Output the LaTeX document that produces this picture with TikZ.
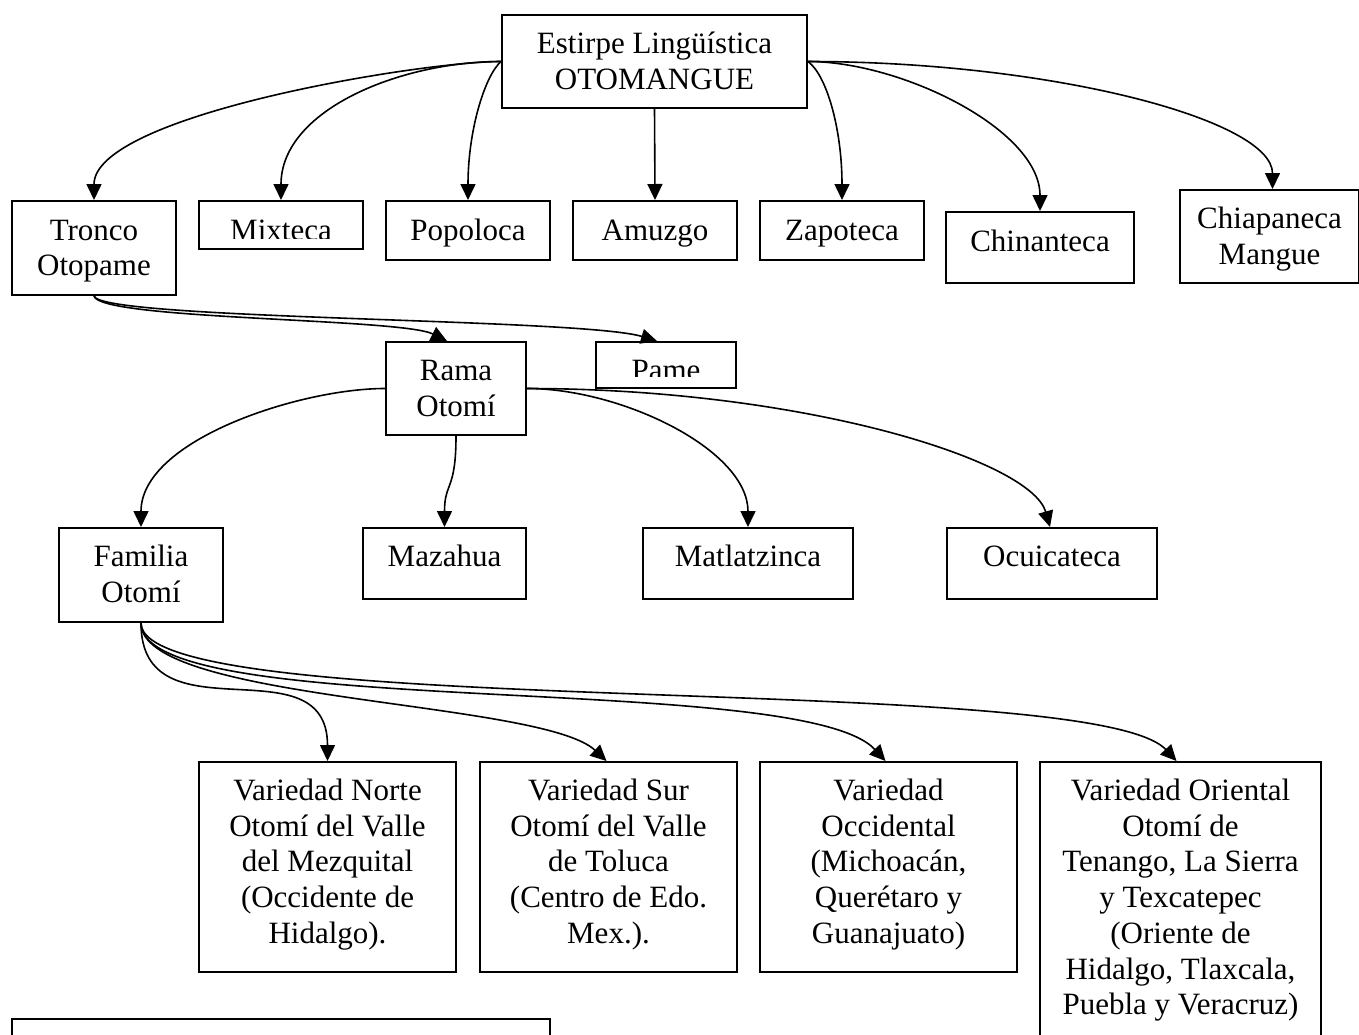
\documentclass[tikz,border=0pt]{standalone}
\usepackage{fontspec}
\setmainfont{Liberation Serif}
\usetikzlibrary{arrows.meta}
\tikzset{
  box/.style={draw, line width=2pt, inner sep=0pt, anchor=north west},
  lbl/.style={inner sep=0pt, anchor=base, font=\fontsize{31}{35.7}\selectfont},
  arr/.style={line width=1.6pt, -{Triangle[length=16pt,width=15pt]}},
}
\newcommand{\lines}[1]{\parbox[t]{420pt}{\centering #1}}
\begin{document}
\begin{tikzpicture}[x=1pt,y=-1pt]
\clip (0,0) rectangle (1359,1034);
\fill[white] (0,0) rectangle (1359,1034);
% boxes
\node[box, minimum width=305pt, minimum height=93pt] (estirpe) at (501,14) {};
\node[box, minimum width=164pt, minimum height=94pt] (tronco) at (11,200) {};
\node[box, minimum width=164pt, minimum height=48pt] (mixteca) at (198,200) {};
\node[box, minimum width=164pt, minimum height=59pt] (popoloca) at (385,200) {};
\node[box, minimum width=164pt, minimum height=59pt] (amuzgo) at (572,200) {};
\node[box, minimum width=164pt, minimum height=59pt] (zapoteca) at (759,200) {};
\node[box, minimum width=188pt, minimum height=71pt] (chinanteca) at (945,211) {};
\node[box, minimum width=179pt, minimum height=93pt] (chiapaneca) at (1179,189) {};
\node[box, minimum width=140pt, minimum height=93pt] (rama) at (385,341) {};
\node[box, minimum width=140pt, minimum height=46pt] (pame) at (595,341) {};
\node[box, minimum width=164pt, minimum height=94pt] (familia) at (58,527) {};
\node[box, minimum width=163pt, minimum height=71pt] (mazahua) at (362,527) {};
\node[box, minimum width=210pt, minimum height=71pt] (matlatzinca) at (642,527) {};
\node[box, minimum width=210pt, minimum height=71pt] (ocuicateca) at (946,527) {};
\node[box, minimum width=257pt, minimum height=210pt] (norte) at (198,761) {};
\node[box, minimum width=257pt, minimum height=210pt] (sur) at (479,761) {};
\node[box, minimum width=257pt, minimum height=210pt] (occidental) at (759,761) {};
\node[box, minimum width=281pt, minimum height=320pt] (oriental) at (1039,761) {};
\node[box, minimum width=538pt, minimum height=60pt] (nota) at (11,1018) {};
% labels
\node[lbl] (testirpe) at ([yshift=-39.5pt]estirpe.north) {\lines{Estirpe Lingüística\\OTOMANGUE}};
\node[lbl] (ttronco) at ([yshift=-40pt]tronco.north) {\lines{Tronco\\Otopame}};
\begin{scope}
\clip (199,201) rectangle (361,238);
\node[lbl] (tmixteca) at ([yshift=-40pt]mixteca.north) {Mixteca};
\end{scope}
\node[lbl] (tpopoloca) at ([yshift=-40pt]popoloca.north) {Popoloca};
\node[lbl] (tamuzgo) at ([yshift=-40pt]amuzgo.north) {Amuzgo};
\node[lbl] (tzapoteca) at ([yshift=-40pt]zapoteca.north) {Zapoteca};
\node[lbl] (tchinanteca) at ([yshift=-40pt]chinanteca.north) {Chinanteca};
\node[lbl] (tchiapaneca) at ([yshift=-39.5pt]chiapaneca.north) {\lines{Chiapaneca\\Mangue}};
\node[lbl] (trama) at ([yshift=-39.5pt]rama.north) {\lines{Rama\\Otomí}};
\begin{scope}
\clip (596,342) rectangle (734,376);
\node[lbl] (tpame) at ([yshift=-39.5pt]pame.north) {Pame};
\end{scope}
\node[lbl] (tfamilia) at ([yshift=-39.5pt]familia.north) {\lines{Familia\\Otomí}};
\node[lbl] (tmazahua) at ([yshift=-39.5pt]mazahua.north) {Mazahua};
\node[lbl] (tmatlatzinca) at ([yshift=-39.5pt]matlatzinca.north) {Matlatzinca};
\node[lbl] (tocuicateca) at ([yshift=-39.5pt]ocuicateca.north) {Ocuicateca};
\node[lbl] (tnorte) at ([yshift=-39.5pt]norte.north) {\lines{Variedad Norte\\Otomí del Valle\\del Mezquital\\(Occidente de\\Hidalgo).}};
\node[lbl] (tsur) at ([yshift=-39.5pt]sur.north) {\lines{Variedad Sur\\Otomí del Valle\\de Toluca\\(Centro de Edo.\\Mex.).}};
\node[lbl] (toccidental) at ([yshift=-39.5pt]occidental.north) {\lines{Variedad\\Occidental\\(Michoacán,\\Querétaro y\\Guanajuato)}};
\node[lbl] (toriental) at ([yshift=-39.5pt]oriental.north) {\lines{Variedad Oriental\\Otomí de\\Tenango, La Sierra\\y Texcatepec\\(Oriente de\\Hidalgo, Tlaxcala,\\Puebla y Veracruz)}};
% connectors: first level
\draw[arr] (estirpe.west) .. controls +(-81,0) and +(0,-85) .. (tronco.north);
\draw[arr] (estirpe.west) .. controls +(-101,0) and +(0,-90) .. (mixteca.north);
\draw[arr] (estirpe.west) .. controls +(-16,14) and +(0,-70) .. (popoloca.north);
\draw[arr] (estirpe.south) -- (amuzgo.north);
\draw[arr] (estirpe.east) .. controls +(19,14) and +(0,-70) .. (zapoteca.north);
\draw[arr] (estirpe.east) .. controls +(94,0) and +(0,-81) .. (chinanteca.north);
\draw[arr] (estirpe.east) .. controls +(244,0) and +(0,-69) .. ([xshift=3pt]chiapaneca.north);
% second level
\draw[arr] (tronco.south) .. controls +(6,24) and +(-46,-23) .. ([xshift=-9pt]rama.north);
\draw[arr] (tronco.south) .. controls +(6,24) and +(-76,-23) .. ([xshift=-9pt]pame.north);
% third level
\draw[arr] (rama.west) .. controls +(-85,0) and +(0,-87) .. (familia.north);
\draw[arr] (rama.south) .. controls +(0,55) and +(0,-45) .. (mazahua.north);
\draw[arr] (rama.east) .. controls +(95,0) and +(0,-77) .. (matlatzinca.north);
\draw[arr] (rama.east) .. controls +(275,0) and +(-19,-67) .. ([xshift=-2pt]ocuicateca.north);
% fourth level
\draw[arr] (familia.south) .. controls +(0,119) and +(0,-121) .. (norte.north);
\draw[arr] (familia.south) .. controls +(0,79) and +(-65,-61) .. ([xshift=-2pt]sur.north);
\draw[arr] (familia.south) .. controls +(0,99) and +(-84,-91) .. ([xshift=-3pt]occidental.north);
\draw[arr] (familia.south) .. controls +(0,99) and +(-85,-91) .. ([xshift=-4pt]oriental.north);
\end{tikzpicture}
\end{document}
